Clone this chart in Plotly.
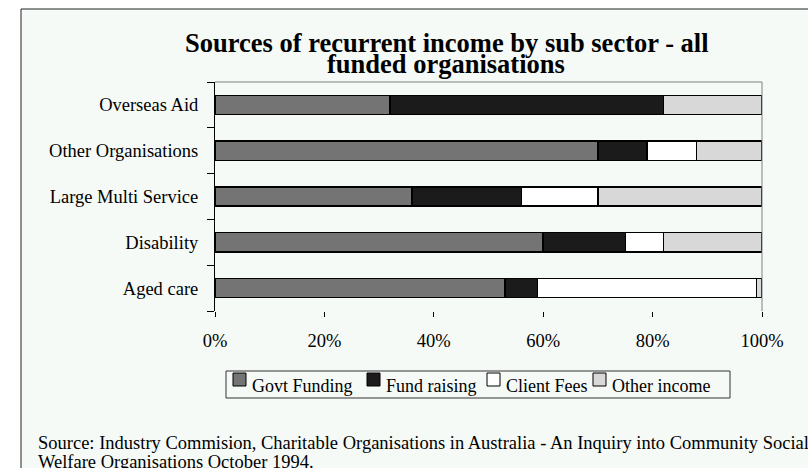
import plotly.graph_objects as go

categories = ["Aged care", "Disability", "Large Multi Service", "Other Organisations", "Overseas Aid"]
govt_funding = [53, 60, 36, 70, 32]
fund_raising = [6, 15, 20, 9, 50]
client_fees = [40, 7, 14, 9, 0]
other_income = [1, 18, 30, 12, 18]
series_names = ["Govt Funding", "Fund raising", "Client Fees", "Other income"]
series_colors = ["#747474", "#1b1b1b", "#ffffff", "#d8d8d8"]
x_tick_vals = [0, 20, 40, 60, 80, 100]
x_tick_text = ["0%", "20%", "40%", "60%", "80%", "100%"]

title_line1 = "<b>Sources of recurrent income by sub sector - all</b>"
title_line2 = "<b>funded organisations</b>"
source_line1 = "Source: Industry Commision, Charitable Organisations in Australia - An Inquiry into Community Social"
source_line2 = "Welfare Organisations October 1994."

W, H = 808, 468
L, R, T, B = 215, 762, 82, 311
FONT = "Liberation Serif, Times New Roman, serif"
FS = 18.5
BG = "#f5faf7"


def px(x):
    return (x - L) / (R - L)


def py(y):
    return (B - y) / (B - T)


fig = go.Figure()
for name, vals, col in zip(series_names, [govt_funding, fund_raising, client_fees, other_income], series_colors):
    fig.add_trace(go.Bar(
        y=categories, x=vals, name=name, orientation="h",
        marker=dict(color=col, line=dict(color="#000000", width=1.5)),
        hoverinfo="x+y+name",
    ))

shapes = [
    dict(type="rect", xref="paper", yref="paper",
         x0=px(21), x1=px(900), y0=py(600), y1=py(9),
         line=dict(color="#222222", width=1), fillcolor=BG, layer="below"),
    dict(type="line", xref="paper", yref="paper",
         x0=0, x1=1, y0=1, y1=1, line=dict(color="#808080", width=1)),
    dict(type="line", xref="paper", yref="paper",
         x0=1, x1=1, y0=0, y1=1, line=dict(color="#808080", width=1)),
    # legend frame
    dict(type="rect", xref="paper", yref="paper",
         x0=px(226), x1=px(730), y0=py(398), y1=py(371),
         line=dict(color="#333333", width=1), fillcolor=BG, layer="below"),
]

annotations = [
    dict(text=title_line1, xref="paper", yref="paper", x=px(447), y=py(42.5),
         xanchor="center", yanchor="middle", showarrow=False,
         font=dict(family=FONT, size=26.5, color="#000000")),
    dict(text=title_line2, xref="paper", yref="paper", x=px(446), y=py(64),
         xanchor="center", yanchor="middle", showarrow=False,
         font=dict(family=FONT, size=26.5, color="#000000")),
    dict(text=source_line1, xref="paper", yref="paper", x=px(36), y=py(442.5),
         xanchor="left", yanchor="middle", showarrow=False,
         font=dict(family=FONT, size=FS, color="#000000")),
    dict(text=source_line2, xref="paper", yref="paper", x=px(36), y=py(461.5),
         xanchor="left", yanchor="middle", showarrow=False,
         font=dict(family=FONT, size=FS, color="#000000")),
]

# legend entries (symbol square + label), built from the series lists
legend_sym_x = [233, 367, 487, 593]
for name, col, sx in zip(series_names, series_colors, legend_sym_x):
    shapes.append(dict(type="rect", xref="paper", yref="paper",
                       x0=px(sx), x1=px(sx + 13), y0=py(386), y1=py(373),
                       line=dict(color="#000000", width=1), fillcolor=col))
    annotations.append(dict(text=name, xref="paper", yref="paper",
                            x=px(sx + 17), y=py(385.5),
                            xanchor="left", yanchor="middle", showarrow=False,
                            font=dict(family=FONT, size=18, color="#000000")))

fig.update_layout(
    width=W, height=H,
    margin=dict(l=L, r=W - R, t=T, b=H - B),
    barmode="stack",
    bargap=0.58,
    paper_bgcolor="#ffffff",
    plot_bgcolor="rgba(0,0,0,0)",
    font=dict(family=FONT, size=FS, color="#000000"),
    showlegend=False,
    xaxis=dict(
        range=[0, 100],
        tickvals=x_tick_vals, ticktext=x_tick_text,
        ticks="outside", ticklen=5, tickcolor="#000000", tickwidth=1,
        showline=False, showgrid=False, zeroline=False,
        ticklabelstandoff=8,
        tickfont=dict(family=FONT, size=FS, color="#000000"),
        fixedrange=True,
    ),
    yaxis=dict(
        type="category",
        categoryorder="array", categoryarray=categories,
        ticks="outside", ticklen=7, tickcolor="#000000", tickwidth=1,
        tickson="boundaries",
        showline=True, linecolor="#000000", linewidth=1,
        showgrid=False, zeroline=False,
        ticklabelstandoff=12,
        tickfont=dict(family=FONT, size=FS, color="#000000"),
        fixedrange=True,
    ),
    shapes=shapes,
    annotations=annotations,
)

fig.write_html("out.html")
